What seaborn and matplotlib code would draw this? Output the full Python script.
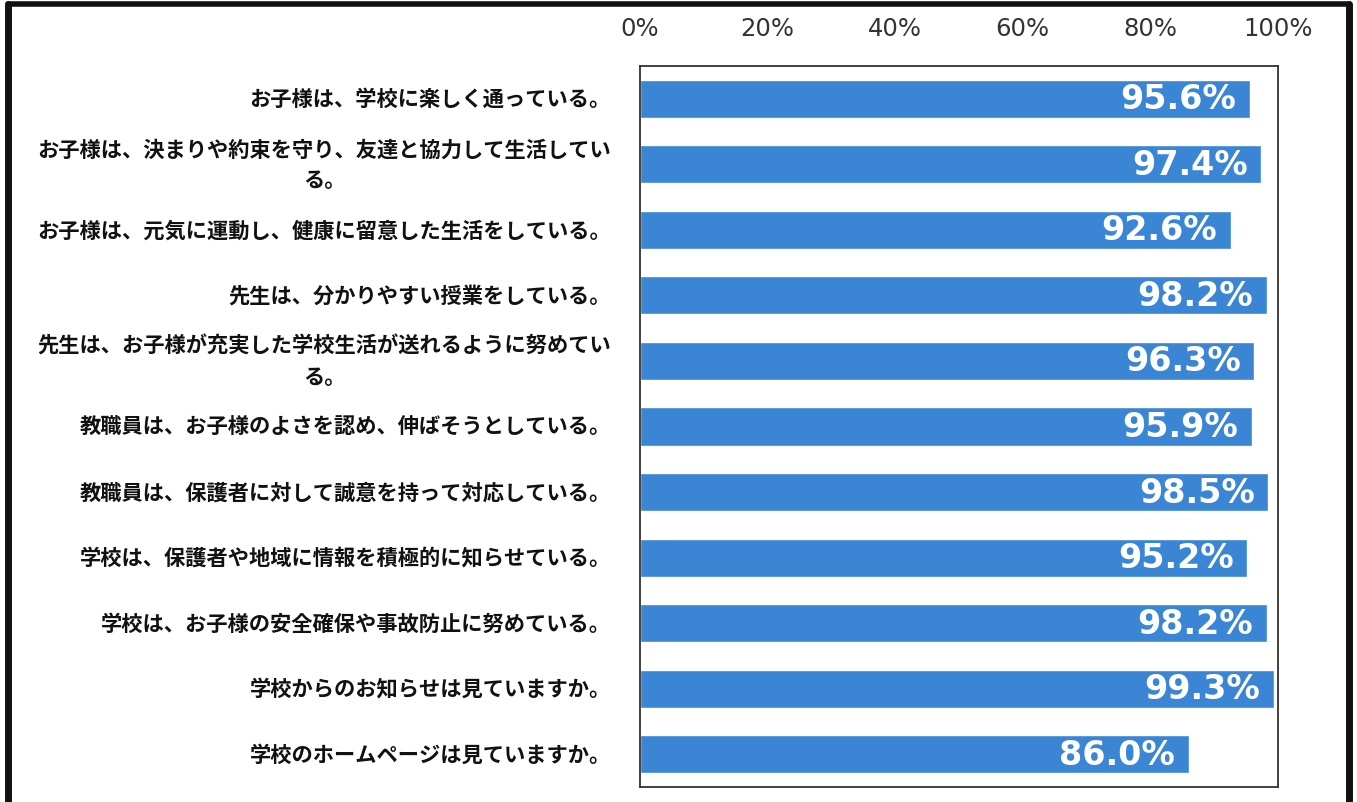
import matplotlib
matplotlib.use("Agg")
import matplotlib.pyplot as plt
import seaborn as sns
import pandas as pd
from matplotlib.lines import Line2D

categories = [
    "お子様は、学校に楽しく通っている。",
    "お子様は、決まりや約束を守り、友達と協力して生活してい\nる。",
    "お子様は、元気に運動し、健康に留意した生活をしている。",
    "先生は、分かりやすい授業をしている。",
    "先生は、お子様が充実した学校生活が送れるように努めてい\nる。",
    "教職員は、お子様のよさを認め、伸ばそうとしている。",
    "教職員は、保護者に対して誠意を持って対応している。",
    "学校は、保護者や地域に情報を積極的に知らせている。",
    "学校は、お子様の安全確保や事故防止に努めている。",
    "学校からのお知らせは見ていますか。",
    "学校のホームページは見ていますか。",
]
values = [95.6, 97.4, 92.6, 98.2, 96.3, 95.9, 98.5, 95.2, 98.2, 99.3, 86.0]
xticks = [0, 20, 40, 60, 80, 100]
xtick_labels = ["0%", "20%", "40%", "60%", "80%", "100%"]

sns.set_theme(style="white")
plt.rcParams["font.family"] = ["Noto Sans CJK JP", "DejaVu Sans"]

df = pd.DataFrame({"cat": categories, "val": values})

fig = plt.figure(figsize=(13.57, 8.03), dpi=100)
ax = fig.add_axes([640 / 1357, 1 - 788 / 803, (1278 - 640) / 1357, (788 - 67) / 803])

sns.barplot(data=df, y="cat", x="val", orient="h", color="#3a86d5",
            saturation=1, width=0.58, ax=ax)

ax.set_xlim(0, 100)
ax.set_ylim(len(categories) - 0.5, -0.5)
ax.set_xlabel("")
ax.set_ylabel("")
ax.xaxis.tick_top()
ax.set_xticks(xticks)
ax.set_xticklabels(xtick_labels, fontsize=17.5, color="#333333",
                   family=["DejaVu Sans"])
ax.tick_params(axis="x", length=0, pad=19)
ax.tick_params(axis="y", length=0, pad=21)
for lbl in ax.get_yticklabels():
    lbl.set_fontsize(15.3)
    lbl.set_fontweight("bold")
    lbl.set_color("#111111")
    lbl.set_multialignment("center")
    lbl.set_linespacing(1.6)
    lbl.set_verticalalignment("center")

for sp in ax.spines.values():
    sp.set_visible(True)
    sp.set_color("#333333")
    sp.set_linewidth(1.3)

for i, v in enumerate(values):
    ax.annotate(f"{v:.1f}%", xy=(v, i), xytext=(-10, 0),
                textcoords="offset points", ha="right", va="center",
                fontsize=24, fontweight="bold", color="white",
                family=["DejaVu Sans"])

# outer frame of the scanned chart
fig.add_artist(Line2D([8 / 1357, 8 / 1357], [0, 1 - 5 / 803],
                      transform=fig.transFigure, color="#111111", lw=5))
fig.add_artist(Line2D([8 / 1357, 1349 / 1357], [1 - 5 / 803, 1 - 5 / 803],
                      transform=fig.transFigure, color="#111111", lw=4))
fig.add_artist(Line2D([1349 / 1357, 1349 / 1357], [0, 1 - 5 / 803],
                      transform=fig.transFigure, color="#111111", lw=5))

fig.savefig("out.png", dpi=100, facecolor="white")
